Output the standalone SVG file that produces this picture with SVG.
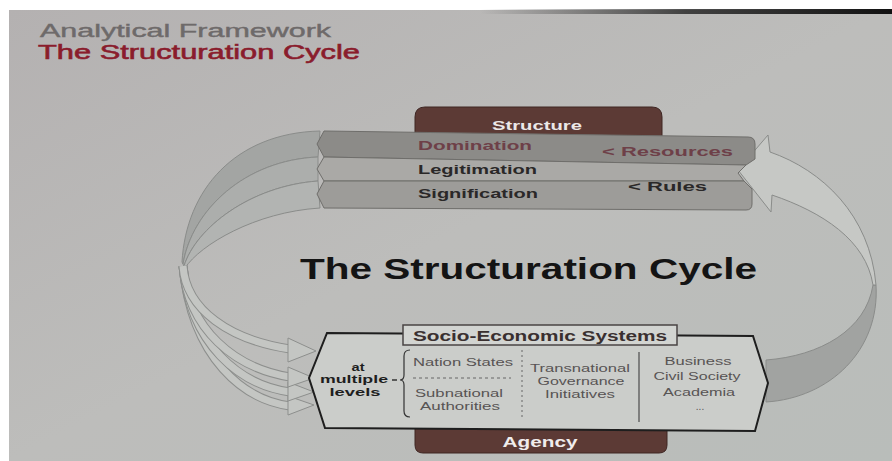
<svg xmlns="http://www.w3.org/2000/svg" width="892" height="461" viewBox="0 0 892 461">
  <defs>
    <linearGradient id="bg" x1="0" y1="0" x2="1" y2="1">
      <stop offset="0" stop-color="#b4b1b1"/>
      <stop offset="0.5" stop-color="#bdbdbb"/>
      <stop offset="1" stop-color="#b9bdba"/>
    </linearGradient>
    <linearGradient id="topbar" x1="0" y1="0" x2="1" y2="0">
      <stop offset="0" stop-color="#222" stop-opacity="0"/>
      <stop offset="0.5" stop-color="#222" stop-opacity="0.8"/>
      <stop offset="1" stop-color="#111"/>
    </linearGradient>
    <style>
      .f { font-family: "Liberation Sans", Arial, sans-serif; }
      .b { font-weight: bold; }
      .band { stroke: #6f6e6b; stroke-width: 1; }
      .rib { stroke: #8a8c8a; stroke-width: 1; }
      .shaftO { fill: none; stroke: #8d8f8d; stroke-width: 9; stroke-linecap: butt; }
      .shaftI { fill: none; stroke: #c4c6c3; stroke-width: 7; stroke-linecap: butt; }
      .head { fill: #c4c6c3; stroke: #8d8f8d; stroke-width: 1; }
      .cell { fill: #585454; font-size: 10px; }
      .bandtxt { font-size: 12px; font-weight: bold; }
      .tab { fill: #5c3a35; stroke: #3e2623; stroke-width: 1; }
    </style>
  </defs>

  <rect x="0" y="0" width="892" height="461" fill="#ffffff"/>
  <rect x="9" y="10" width="883" height="451" fill="url(#bg)"/>
  <rect x="480" y="9" width="412" height="5" fill="url(#topbar)"/>

  <text class="f" x="40" y="37" font-size="18" fill="#6e6a6a" stroke="#6e6a6a" stroke-width="0.4" textLength="291" lengthAdjust="spacingAndGlyphs">Analytical Framework</text>
  <text class="f" x="38" y="59" font-size="20" fill="#8a1c2c" stroke="#8a1c2c" stroke-width="0.6" textLength="322" lengthAdjust="spacingAndGlyphs">The Structuration Cycle</text>

  <g id="connectors">
    <path class="rib" d="M320,131 C235,133 186,190 182,262 L183,264 C192,210 245,160 318,157 Z" fill="#a3a5a3"/>
    <path class="rib" d="M318,157 C245,160 192,210 183,264 L184,266 C196,228 250,186 318,181 Z" fill="#acaeac"/>
    <path class="rib" d="M318,181 C250,186 196,228 184,266 L185,268 C200,245 255,212 320,208 Z" fill="#b2b4b2"/>
    <path class="shaftO" d="M183,266 C192,360 245,400 290,406"/>
    <path class="shaftI" d="M183,266 C192,360 245,400 290,406"/>
    <polygon class="head" points="288,396 314,405 288,415"/>
    <path class="shaftO" d="M183,266 C190,345 240,385 290,392"/>
    <path class="shaftI" d="M183,266 C190,345 240,385 290,392"/>
    <polygon class="head" points="288,382 314,392 288,401"/>
    <path class="shaftO" d="M183,266 C188,330 235,368 290,377"/>
    <path class="shaftI" d="M183,266 C188,330 235,368 290,377"/>
    <polygon class="head" points="288,367 314,378 288,387"/>
    <path class="shaftO" d="M183,266 C186,310 230,340 290,349"/>
    <path class="shaftI" d="M183,266 C186,310 230,340 290,349"/>
    <polygon class="head" points="288,338 316,351 288,362"/>
    <path class="rib" d="M766,360 C820,356 866,330 873,285 L876,285 C880,350 830,398 766,402 Z" fill="#a1a3a1"/>
    <path class="rib" d="M738,170 L768,135 L770,152 C822,170 870,215 876,285 L873,285 C866,240 822,212 772,195 L771,212 Z" fill="#c6c8c5"/>
  </g>

  <g id="structure">
    <path class="tab" d="M415,140 L415,117 Q415,107 425,107 L652,107 Q662,107 662,117 L662,140 Z"/>
    <text class="f b" x="537" y="130" font-size="13" fill="#ece8e8" text-anchor="middle" textLength="90" lengthAdjust="spacingAndGlyphs">Structure</text>
    <path class="band" d="M324,131 L748,137 Q755,137 755,144 L755,159 L746,165 L324,157 L317,144 Z" fill="#8c8b88"/>
    <path class="band" d="M324,157 L746,165 L738,173 L744,181 L324,181 L317,169 Z" fill="#aaa9a6"/>
    <path class="band" d="M324,181 L744,181 L752,189 L752,204 Q752,210 746,210 L324,208 L317,194 Z" fill="#9d9c99"/>
    <text class="f bandtxt" x="418" y="150" fill="#6e4048" textLength="114" lengthAdjust="spacingAndGlyphs">Domination</text>
    <text class="f b" x="602" y="156" font-size="13" fill="#6e4048" textLength="131" lengthAdjust="spacingAndGlyphs">&lt; Resources</text>
    <text class="f bandtxt" x="418" y="174" fill="#2a2828" textLength="119" lengthAdjust="spacingAndGlyphs">Legitimation</text>
    <text class="f bandtxt" x="418" y="198" fill="#2a2828" textLength="120" lengthAdjust="spacingAndGlyphs">Signification</text>
    <text class="f b" x="628" y="191" font-size="13" fill="#2a2828" textLength="79" lengthAdjust="spacingAndGlyphs">&lt; Rules</text>
  </g>

  <text class="f b" x="300" y="279" font-size="29" fill="#141414" textLength="457" lengthAdjust="spacingAndGlyphs">The Structuration Cycle</text>

  <g id="agency">
    <path class="tab" d="M415,425 L667,425 L667,445 Q667,453 659,453 L423,453 Q415,453 415,445 Z" fill="#6a3d37"/>
    <text class="f b" x="540" y="447" font-size="15" fill="#f0ecec" text-anchor="middle" textLength="75" lengthAdjust="spacingAndGlyphs">Agency</text>
  </g>

  <g id="socio-economic-systems">
    <path d="M327,333 L753,336 L768,383 L755,431 L325,428 L309,378 Z" fill="#cbcdca" stroke="#1e1e1e" stroke-width="2"/>
    <rect x="403" y="325" width="274" height="20" fill="#d2d4d1" stroke="#4a4444" stroke-width="1.5"/>
    <text class="f b" x="540" y="341" font-size="14" fill="#3a3030" text-anchor="middle" textLength="254" lengthAdjust="spacingAndGlyphs">Socio-Economic Systems</text>
    <text class="f b" x="358" y="371" font-size="11" fill="#1e1e1e" text-anchor="middle" textLength="13" lengthAdjust="spacingAndGlyphs">at</text>
    <text class="f b" x="354" y="383" font-size="11" fill="#1e1e1e" text-anchor="middle" textLength="68" lengthAdjust="spacingAndGlyphs">multiple</text>
    <text class="f b" x="355" y="396" font-size="11" fill="#1e1e1e" text-anchor="middle" textLength="51" lengthAdjust="spacingAndGlyphs">levels</text>
    <line x1="392" y1="380" x2="397" y2="380" stroke="#333" stroke-width="1.5"/>
    <path d="M410,350 Q404,350 404,356 L404,375 Q404,380 400,380 Q404,380 404,385 L404,411 Q404,417 410,417" fill="none" stroke="#333" stroke-width="1.2"/>
    <text class="f cell" x="463" y="366" text-anchor="middle" textLength="100" lengthAdjust="spacingAndGlyphs">Nation States</text>
    <line x1="413" y1="378" x2="511" y2="378" stroke="#666" stroke-width="1" stroke-dasharray="3,3"/>
    <text class="f cell" x="459" y="397" text-anchor="middle" textLength="88" lengthAdjust="spacingAndGlyphs">Subnational</text>
    <text class="f cell" x="460" y="410" text-anchor="middle" textLength="80" lengthAdjust="spacingAndGlyphs">Authorities</text>
    <line x1="522" y1="350" x2="522" y2="418" stroke="#666" stroke-width="1" stroke-dasharray="2,3"/>
    <text class="f cell" x="580" y="372" text-anchor="middle" textLength="100" lengthAdjust="spacingAndGlyphs">Transnational</text>
    <text class="f cell" x="581" y="385" text-anchor="middle" textLength="87" lengthAdjust="spacingAndGlyphs">Governance</text>
    <text class="f cell" x="580" y="398" text-anchor="middle" textLength="70" lengthAdjust="spacingAndGlyphs">Initiatives</text>
    <line x1="639" y1="352" x2="639" y2="422" stroke="#555" stroke-width="1.3"/>
    <text class="f cell" x="698" y="365" text-anchor="middle" textLength="67" lengthAdjust="spacingAndGlyphs">Business</text>
    <text class="f cell" x="697" y="380" text-anchor="middle" textLength="87" lengthAdjust="spacingAndGlyphs">Civil Society</text>
    <text class="f cell" x="699" y="396" text-anchor="middle" textLength="72" lengthAdjust="spacingAndGlyphs">Academia</text>
    <text class="f cell" x="700" y="410" text-anchor="middle" fill="#9a9a9a">...</text>
  </g>
</svg>
